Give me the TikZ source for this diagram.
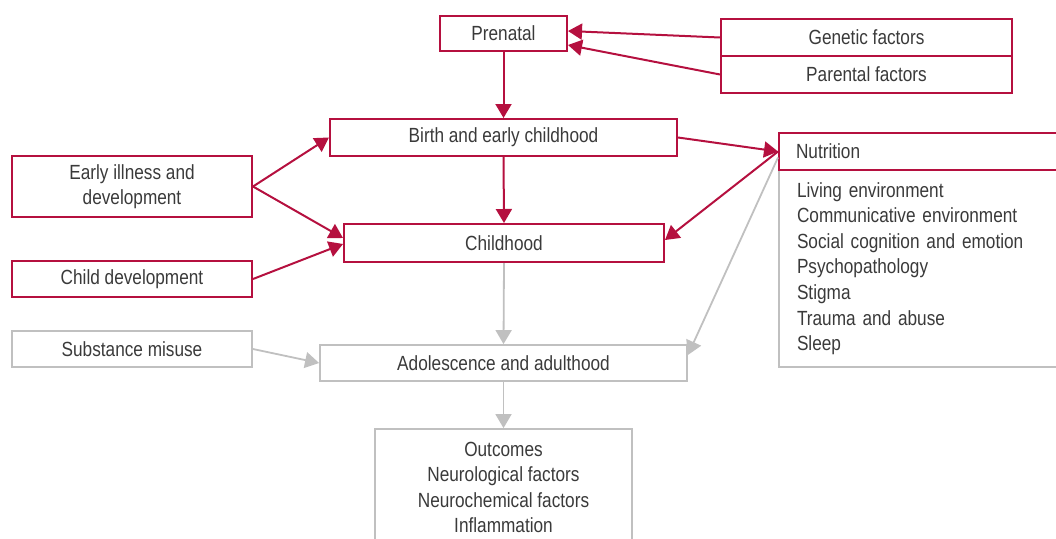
\documentclass[tikz,border=0pt]{standalone}
\usepackage{fontspec}
\setmainfont[FakeStretch=0.84]{Liberation Sans}
\usetikzlibrary{arrows.meta,calc}
\definecolor{cred}{RGB}{181,16,63}
\definecolor{cgray}{RGB}{192,192,192}
\definecolor{ctext}{RGB}{58,58,58}
\begin{document}
\begin{tikzpicture}[x=1pt,y=-1pt,
  font=\fontsize{20.5}{25.6}\selectfont, text=ctext,
  rbox/.style={draw=cred,line width=2pt,inner sep=0pt,align=center},
  gbox/.style={draw=cgray,line width=1.8pt,inner sep=0pt,align=center},
  rarr/.style={draw=cred,line width=2pt,-{Triangle[length=14pt,width=16pt]}},
  garr/.style={draw=cgray,line width=1.8pt,-{Triangle[length=14pt,width=16pt]}}]
\useasboundingbox (0,0) rectangle (1056,538);
\node[rbox,minimum width=127pt,minimum height=35pt] (pre) at (503.5,33.5) {Prenatal};
\node[rbox,minimum width=291pt,minimum height=37pt] (gen) at (866.5,37.5) {Genetic factors};
\node[rbox,minimum width=291pt,minimum height=37pt] (par) at (866.5,74.5) {Parental factors};
\node[rbox,minimum width=347pt,minimum height=37pt] (birth) at (503.5,137.5) {Birth and early childhood};
\node[rbox,minimum width=240pt,minimum height=61pt] (early) at (132,186.5) {Early illness and\\development};
\node[rbox,minimum width=320pt,minimum height=38pt] (child) at (504,243) {Childhood};
\node[rbox,minimum width=240pt,minimum height=36pt] (cdev) at (132,279) {Child development};
\node[gbox,minimum width=240pt,minimum height=36pt] (subst) at (132,349) {Substance misuse};
\node[gbox,minimum width=367pt,minimum height=36pt] (adol) at (503.5,363) {Adolescence and adulthood};
\node[gbox,minimum width=257pt,minimum height=117pt] (outc) at (503.5,487.5) {Outcomes\\Neurological factors\\Neurochemical factors\\Inflammation};
\node[gbox,minimum width=283pt,minimum height=197pt,text width=265pt,align=left,inner xsep=0pt] (list) at (920.5,268.5)
  {\hspace*{9pt}Living environment\\\hspace*{9pt}Communicative environment\\\hspace*{9pt}Social cognition and emotion\\\hspace*{9pt}Psychopathology\\\hspace*{9pt}Stigma\\\hspace*{9pt}Trauma and abuse\\\hspace*{9pt}Sleep};
\node[rbox,minimum width=283pt,minimum height=37pt,text width=265pt,align=left] (nutr) at (920.5,151.5) {\hspace*{8pt}Nutrition};
% connectors
\draw[rarr] (gen.west) -- ($(pre.east)+(0,-2.5)$);
\draw[rarr] (par.west) -- ($(pre.east)+(0,11.5)$);
\draw[rarr] (pre.south) -- (birth.north);
\draw[rarr] (birth.south) -- (child.north);
\draw[rarr] (early.east) -- (birth.west);
\draw[rarr] (early.east) -- ($(child.west)+(0,-5)$);
\draw[rarr] (cdev.east) -- ($(child.west)+(0,1)$);
\draw[rarr] (birth.east) -- (nutr.west);
\draw[rarr] (nutr.west) -- ($(child.east)+(0,-3)$);
\draw[garr] ($(nutr.west)+(0,6)$) -- ($(adol.east)+(0,-8)$);
\draw[garr] (child.south) -- (adol.north);
\draw[garr] (subst.east) -- (adol.west);
\draw[garr] (adol.south) -- (outc.north);
\end{tikzpicture}
\end{document}
